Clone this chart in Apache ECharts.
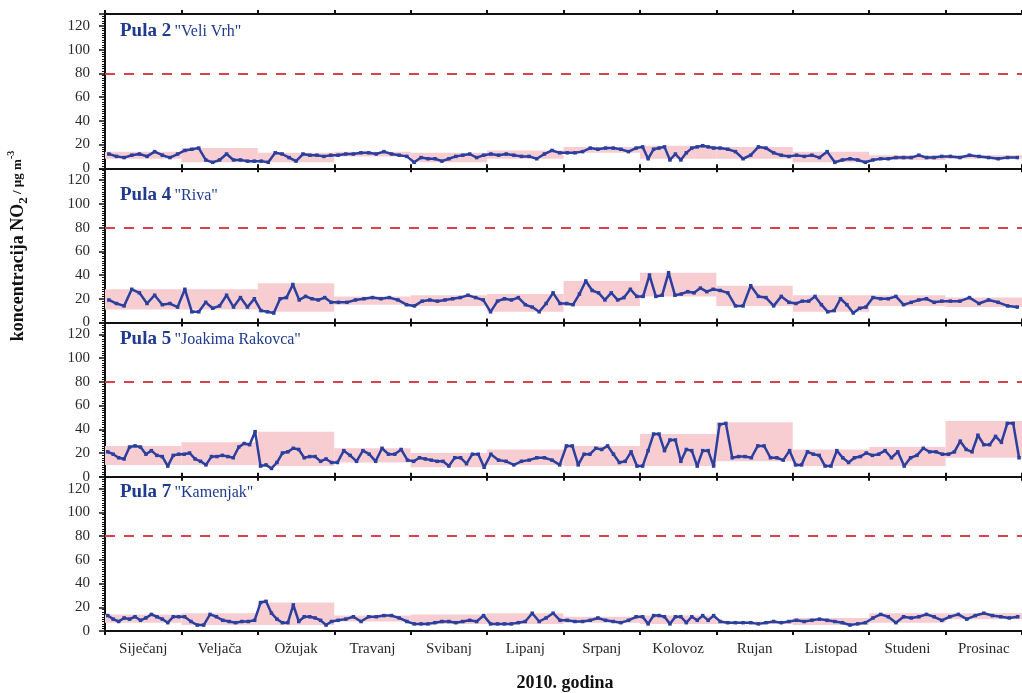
<!DOCTYPE html>
<html><head><meta charset="utf-8">
<script src="https://cdn.jsdelivr.net/npm/echarts@6/dist/echarts.min.js"></script>
<style>html,body{margin:0;padding:0;background:#fff}#c{width:1022px;height:693px}</style>
</head><body><div id="c"></div>
<script>
const months = ['Siječanj','Veljača','Ožujak','Travanj','Svibanj','Lipanj','Srpanj','Kolovoz','Rujan','Listopad','Studeni','Prosinac'];
const stationNames = ['Pula 2','Pula 4','Pula 5','Pula 7'];
const stationSites = ['"Veli Vrh"','"Riva"','"Joakima Rakovca"','"Kamenjak"'];
const limitValue = 80;

// daily-ish values, one sub-array per month
const pula2 = [
  [12,10,9,11,12,10,14,11,9,12],
  [15,16,17,7,5,7,12,7,7,6,6],
  [6,5,13,12,9,6,12,11,11,10,11],
  [11,12,12,13,13,12,14,12,11,10],
  [5,9,8,8,6,8,10,11,12,9,11],
  [12,11,12,11,10,10,8,12,15,13],
  [13,13,14,17,16,17,17,16,14,17],
  [18,8,16,17,18,7,12,7,13,17,18,19,18,17],
  [17,16,14,8,11,18,17,13,11,10],
  [11,10,11,9,14,5,7,8,7,5],
  [7,8,8,9,9,9,11,9,9,10],
  [10,9,11,10,9,8,9,9]
];
const pula4 = [
  [19,16,14,28,25,16,23,15,16,13],
  [28,9,9,17,12,14,23,13,21,13,20],
  [10,9,8,20,21,32,19,22,20,19,21,17],
  [17,17,19,20,21,20,21,19,15],
  [14,18,19,18,19,20,21,23,21,19],
  [9,18,20,19,21,15,13,9,16,25,16],
  [16,15,24,35,27,25,19,25,19,21,28,22],
  [22,40,22,23,42,23,24,26,25,29,26,28],
  [27,25,14,14,31,22,21,14,22,17],
  [16,18,18,22,15,9,10,20,15,8,12,13],
  [21,20,20,22,15,17,19,20,17,18],
  [18,18,21,16,19,17,14,13]
];
const pula5 = [
  [21,19,16,15,25,26,25,19,22,18,17,9,18,19],
  [19,20,15,13,10,17,17,18,17,16,25,28,27,38],
  [9,10,7,12,20,21,24,23,16,17,17,13,15,12],
  [12,22,18,13,22,19,13,24,19,19,23,14],
  [13,16,15,14,13,13,9,16,16,11,19,19,8],
  [19,14,13,10,13,14,16,16,14,10],
  [26,26,10,19,19,24,23,26,19,12,13,21,9],
  [9,22,36,36,22,31,31,13,23,22,9,22,22,9],
  [44,45,16,17,17,16,26,26,16,16,14,22],
  [10,10,21,19,18,9,9,22,16,12,16,17,20],
  [18,19,22,16,21,9,16,18,24,21,21,19],
  [19,21,30,23,21,35,27,27,34,29,45,45,16]
];
const pula7 = [
  [13,10,8,11,10,12,9,11,14,12,10,7,12,12],
  [12,8,5,5,14,12,9,8,7,8,8,9],
  [24,25,15,10,7,7,22,8,12,12,11,9,5,8],
  [9,10,12,8,12,12,13,13,11,8],
  [6,6,6,7,8,8,7,8,9,8,13],
  [6,6,6,6,7,8,15,8,11,15,9],
  [9,8,8,9,11,9,8,7,9,12],
  [12,6,13,13,12,6,12,12,7,12,9,13,9,13],
  [8,7,7,7,7,6,7,8,7,8],
  [9,8,9,10,9,8,7,5,6,7],
  [11,14,12,7,12,11,12,14,12,9],
  [12,14,10,13,15,13,12,11,12]
];
// monthly range bands (low / high)
const bandLo2 = [8,5,5,10,5,8,13,8,8,5,7,8];
const bandHi2 = [14,17,13,14,13,15,18,19,18,14,11,11];
const bandLo4 = [11,11,9,15,14,9,14,22,14,9,14,13];
const bandHi4 = [28,28,33,22,23,24,35,42,31,23,23,21];
const bandLo5 = [10,10,9,12,8,10,9,9,13,9,9,16];
const bandHi5 = [26,29,38,24,20,23,26,36,46,23,25,47];
const bandLo7 = [7,5,5,8,6,6,7,6,6,5,7,10];
const bandHi7 = [14,15,24,13,14,15,12,13,8,11,15,15];

const stations = [pula2, pula4, pula5, pula7];
const bandsLo = [bandLo2, bandLo4, bandLo5, bandLo7];
const bandsHi = [bandHi2, bandHi4, bandHi5, bandHi7];
const titleY = [33, 197, 341, 494];

const serif = 'Liberation Serif, Times New Roman, serif';
const chart = echarts.init(document.getElementById('c'));
const grid = [], xAxis = [], yAxis = [], series = [], graphic = [];
const panelTop = 14, panelH = 154.25;

for (let k = 0; k < 4; k++) {
  grid.push({left: 105, width: 924, top: panelTop + panelH * k, height: panelH});
  const axBase = {
    type: 'value', gridIndex: k, min: 0, max: 12, interval: 1,
    axisLine: {show: true, lineStyle: {color: '#111', width: 2}},
    axisTick: {show: true, length: 4, lineStyle: {color: '#111', width: 2}},
    axisLabel: {show: false}, splitLine: {show: false}
  };
  const bottomIdx = xAxis.length;
  xAxis.push(Object.assign({}, axBase, {position: 'bottom'}));
  xAxis.push(Object.assign({}, axBase, {position: 'top'}));
  if (k === 3) {
    xAxis.push({
      type: 'category', gridIndex: k, position: 'bottom', data: months, boundaryGap: true,
      axisLine: {show: false}, axisTick: {show: false}, splitLine: {show: false},
      axisLabel: {margin: 11, fontFamily: serif, fontSize: 15, color: '#2a2a2a', interval: 0}
    });
  }
  yAxis.push({
    type: 'value', gridIndex: k, min: 0, max: 130, interval: 20,
    axisLine: {show: true, lineStyle: {color: '#111', width: 2}},
    axisTick: {show: true, length: 6, lineStyle: {color: '#111', width: 1.5}},
    minorTick: {show: true, splitNumber: 10, length: 3, lineStyle: {color: '#111', width: 1}},
    splitLine: {show: false},
    axisLabel: {showMaxLabel: false, margin: 15, fontFamily: serif, fontSize: 15, color: '#2a2a2a'}
  });
  // band series
  const lo = bandsLo[k], hi = bandsHi[k];
  series.push({
    type: 'custom', xAxisIndex: bottomIdx, yAxisIndex: k, z: 1, silent: true,
    data: months.map((_, m) => [m, lo[m], hi[m]]),
    encode: {x: 0, y: [1, 2]},
    renderItem: function (params, api) {
      const m = api.value(0);
      const p0 = api.coord([m, api.value(2)]);
      const p1 = api.coord([m + 1, api.value(1)]);
      return {type: 'rect', shape: {x: p0[0], y: p0[1], width: p1[0] - p0[0], height: p1[1] - p0[1]},
        style: {fill: '#f8cdd1'}};
    }
  });
  // line series
  const pts = [];
  stations[k].forEach((vals, m) => {
    vals.forEach((v, i) => pts.push([m + (i + 0.5) / vals.length, v]));
  });
  series.push({
    type: 'line', xAxisIndex: bottomIdx, yAxisIndex: k, z: 3, data: pts,
    symbol: 'rect', symbolSize: 3.5, showSymbol: true,
    itemStyle: {color: '#2b3f9e'}, lineStyle: {color: '#2b3f9e', width: 2.5},
    animation: false,
    markLine: {
      silent: true, symbol: 'none', label: {show: false},
      lineStyle: {color: '#d8434b', type: [10, 9], width: 2},
      data: [{yAxis: limitValue}]
    }
  });
  graphic.push({
    type: 'text', left: 120, top: titleY[k] - 11,
    style: {
      text: '{b|' + stationNames[k] + '} {n|' + stationSites[k] + '}',
      rich: {
        b: {fontFamily: serif, fontWeight: 'bold', fontSize: 19, fill: '#1f3a8f'},
        n: {fontFamily: serif, fontSize: 16, fill: '#1f3a8f'}
      }
    }
  });
}

graphic.push({
  type: 'text', x: 18, y: 246, rotation: Math.PI / 2,
  style: {
    text: '{a|koncentracija NO}{s|2}{b| / µg m}{p|-3}',
    align: 'center', verticalAlign: 'middle',
    rich: {
      a: {fontFamily: serif, fontWeight: 'bold', fontSize: 18, fill: '#111', lineHeight: 24, verticalAlign: 'middle'},
      s: {fontFamily: serif, fontWeight: 'bold', fontSize: 13, fill: '#111', lineHeight: 13, verticalAlign: 'bottom'},
      b: {fontFamily: serif, fontWeight: 'bold', fontSize: 13, fill: '#111', lineHeight: 24, verticalAlign: 'middle'},
      p: {fontFamily: serif, fontWeight: 'bold', fontSize: 10, fill: '#111', lineHeight: 10, verticalAlign: 'top'}
    }
  }
});
graphic.push({
  type: 'text', x: 565, y: 683,
  style: {text: '2010. godina', align: 'center', verticalAlign: 'middle',
    fontFamily: serif, fontWeight: 'bold', fontSize: 18, fill: '#111'}
});

chart.setOption({animation: false, grid, xAxis, yAxis, series, graphic});
</script></body></html>
